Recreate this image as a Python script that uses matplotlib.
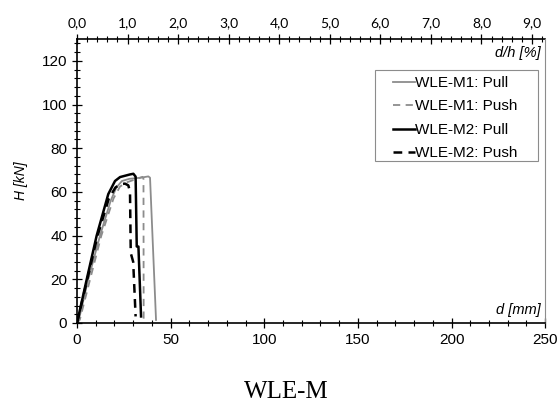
import matplotlib
matplotlib.use("Agg")
import matplotlib.pyplot as plt
from matplotlib.patches import Rectangle
from matplotlib.ticker import MultipleLocator, FixedLocator, FuncFormatter

# wall height used for drift ratio d/h (mm)
h_mm = 2700.0

# WLE-M1 pull (gray solid)
m1_pull_d = [0, 1, 6, 12.3, 18, 21, 24, 28, 34, 38.1, 39, 42.2]
m1_pull_H = [0, 1.5, 20, 40, 56, 62, 65, 66, 66.5, 67.1, 66.5, 1.4]
# WLE-M1 push (gray dashed)
m1_push_d = [0, 1.5, 7, 13, 19.5, 23, 27, 32, 35, 35.5, 35.6]
m1_push_H = [0, 1.5, 20, 40, 57, 62.5, 64.5, 66, 66.9, 66, 2]
# WLE-M2 pull (black solid)
m2_pull_d = [0, 5.2, 10.5, 16.7, 20.3, 23, 28.3, 30.1, 31.3, 31.9, 32.8, 34.2]
m2_pull_H = [0, 20, 40, 59, 65, 66.8, 68, 68.3, 67, 35, 35, 3]
# WLE-M2 push (black dashed)
m2_push_d = [0, 5.5, 11, 17, 20.5, 23, 25.6, 27.4, 28.3, 28.7, 30, 31.3]
m2_push_H = [0, 20, 40, 57, 62, 63.5, 63.8, 63, 60, 32, 28, 3]

# drift ratio tick values on the top axis (%)
drift_ticks = [0, 1, 2, 3, 4, 5, 6, 7, 8, 9]

gray = "#8c8c8c"
sans = "Liberation Sans"

fig = plt.figure(figsize=(5.58, 4.04), dpi=100)
ax = fig.add_axes([0.138, 0.2005, 0.839, 0.703])

ax.plot(m1_pull_d, m1_pull_H, color=gray, lw=1.3, label="WLE-M1: Pull")
ax.plot(m1_push_d, m1_push_H, color=gray, lw=1.3, ls=(0, (4, 3)), label="WLE-M1: Push")
ax.plot(m2_pull_d, m2_pull_H, color="black", lw=1.8, label="WLE-M2: Pull")
ax.plot(m2_push_d, m2_push_H, color="black", lw=1.8, ls=(0, (3.5, 2.5)), label="WLE-M2: Push")

ax.set_xlim(0, 250)
ax.set_ylim(0, 130)
ax.xaxis.set_major_locator(MultipleLocator(50))
ax.xaxis.set_minor_locator(MultipleLocator(10))
ax.yaxis.set_major_locator(MultipleLocator(20))
ax.yaxis.set_minor_locator(MultipleLocator(4))
ax.tick_params(which="major", direction="inout", length=7, width=0.9, labelsize=11)
ax.tick_params(which="minor", direction="inout", length=4, width=0.8)
for lab in ax.get_xticklabels() + ax.get_yticklabels():
    lab.set_fontfamily(sans)

ax.spines["top"].set_visible(False)
ax.spines["right"].set_color(gray)
ax.spines["right"].set_linewidth(0.8)
ax.spines["left"].set_linewidth(1.2)
ax.spines["bottom"].set_linewidth(1.2)

# top axis: drift ratio in %
top = ax.secondary_xaxis("top", functions=(lambda d: d / h_mm * 100, lambda r: r * h_mm / 100))
top.xaxis.set_major_locator(FixedLocator(drift_ticks))
top.xaxis.set_minor_locator(MultipleLocator(0.2))
top.xaxis.set_major_formatter(FuncFormatter(lambda v, p: f"{v:.1f}".replace(".", ",")))
top.tick_params(which="major", direction="inout", length=7, width=0.9, labelsize=10)
top.tick_params(which="minor", direction="inout", length=4, width=0.8)
top.spines["top"].set_linewidth(1.2)
for lab in top.get_xticklabels():
    lab.set_fontfamily("Lato")

ax.set_ylabel("H [kN]", fontstyle="italic", fontsize=10, fontfamily=sans, labelpad=10)
ax.text(0.99, 0.02, "d [mm]", transform=ax.transAxes, ha="right", va="bottom",
        fontstyle="italic", fontsize=10.5, fontfamily=sans)
ax.text(0.99, 0.975, "d/h [%]", transform=ax.transAxes, ha="right", va="top",
        fontstyle="italic", fontsize=10.5, fontfamily=sans)

# legend frame drawn separately to get the wide left margin of the original
ax.add_patch(Rectangle((0.637, 0.570), 0.348, 0.321, transform=ax.transAxes,
                       facecolor="white", edgecolor=gray, lw=0.8, zorder=4))
leg = ax.legend(loc="upper left", bbox_to_anchor=(0.675, 0.870), handlelength=1.45,
                handletextpad=0.0, frameon=False, borderpad=0, borderaxespad=0,
                prop={"family": sans, "size": 11}, labelspacing=0.62)
leg.set_zorder(5)

fig.text(0.513, 0.015, "WLE-M", ha="center", va="baseline", fontsize=18,
         fontfamily="Liberation Serif")

fig.savefig("out.png", dpi=100)
